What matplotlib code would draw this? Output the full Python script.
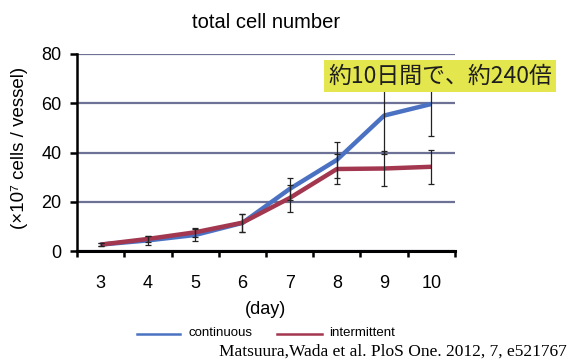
import matplotlib.pyplot as plt
import matplotlib.patches as patches
import numpy as np

days = [3, 4, 5, 6, 7, 8, 9, 10]
continuous = [2.6, 4.3, 6.5, 11.4, 25.2, 37.0, 55.0, 59.7]
continuous_err = [0.5, 1.8, 2.3, 3.7, 4.5, 7.4, 15.6, 12.8]
intermittent = [2.6, 4.9, 7.6, 11.5, 21.5, 33.3, 33.5, 34.2]
intermittent_err = [0.5, 1.2, 1.8, 3.6, 5.5, 6.0, 7.0, 6.8]
y_ticks = [0, 20, 40, 60, 80]

sans = ['Liberation Sans', 'DejaVu Sans']
plt.rcParams['font.family'] = sans

W, H = 570, 363
fig = plt.figure(figsize=(W / 100, H / 100), dpi=100)
ax = fig.add_axes([77 / W, 1 - 251 / H, (455 - 77) / W, (251 - 54) / H])

blue = '#4b72c2'
red = '#a2374f'

ax.errorbar(days, continuous, yerr=continuous_err, fmt='none', ecolor='#222222',
            elinewidth=0.9, capsize=2.5, capthick=0.9, zorder=4)
ax.errorbar(days, intermittent, yerr=intermittent_err, fmt='none', ecolor='#222222',
            elinewidth=0.9, capsize=2.5, capthick=0.9, zorder=4)
ax.plot(days, continuous, color=blue, lw=3.2, solid_capstyle='butt', zorder=3)
ax.plot(days, intermittent, color=red, lw=3.2, solid_capstyle='butt', zorder=3)

ax.set_xlim(2.5, 10.5)
ax.set_ylim(0, 80)
ax.set_yticks(y_ticks)
ax.yaxis.grid(True, color='#6d7195', lw=1.6)
ax.set_axisbelow(True)

# category axis: ticks between categories, labels on the centres
ax.set_xticks(np.arange(2.5, 11, 1))
ax.set_xticklabels([])
ax.set_xticks(days, minor=True)
ax.set_xticklabels([str(d) for d in days], minor=True, fontsize=13)
ax.tick_params(axis='x', which='major', direction='out', length=4, width=1.8)
ax.tick_params(axis='x', which='minor', length=0, pad=17)
ax.tick_params(axis='y', direction='out', length=5, width=1.8, labelsize=13, pad=6)

for s in ['top', 'right']:
    ax.spines[s].set_visible(False)
ax.spines['left'].set_linewidth(1.8)
ax.spines['bottom'].set_linewidth(2.2)

fig.text(266 / W, 1 - 22 / H, 'total cell number', ha='center', va='center', fontsize=14.5)
fig.text(20 / W, 1 - 148 / H, '(×10⁷ cells / vessel)', ha='center', va='center',
         rotation=90, fontsize=13.5)
fig.text(266 / W, 1 - 309 / H, '(day)', ha='center', va='center', fontsize=13)

# legend drawn below the axis
fig.add_artist(plt.Line2D([137 / W, 180 / W], [1 - 334 / H] * 2, color=blue, lw=1.8))
fig.text(188 / W, 1 - 333 / H, 'continuous', ha='left', va='center', fontsize=9.5)
fig.add_artist(plt.Line2D([277 / W, 322 / W], [1 - 334 / H] * 2, color=red, lw=1.8))
fig.text(329 / W, 1 - 333 / H, 'intermittent', ha='left', va='center', fontsize=9.5)

fig.text(567 / W, 1 - 352 / H, 'Matsuura,Wada et al. PloS One. 2012, 7, e521767',
         ha='right', va='center', fontsize=12.5, family=['Liberation Serif', 'DejaVu Serif'])

# yellow callout
fig.add_artist(patches.Rectangle((324 / W, 1 - 92 / H), 232 / W, 32 / H,
                                 transform=fig.transFigure, facecolor='#e3e64c',
                                 edgecolor='none', zorder=5))
fig.text(440 / W, 1 - 76 / H, '約10日間で、約240倍', ha='center', va='center',
         fontsize=16.5, color='#1e1e1e', zorder=6,
         family=['Noto Sans CJK JP', 'DejaVu Sans'])

fig.savefig('out.png', dpi=100)
